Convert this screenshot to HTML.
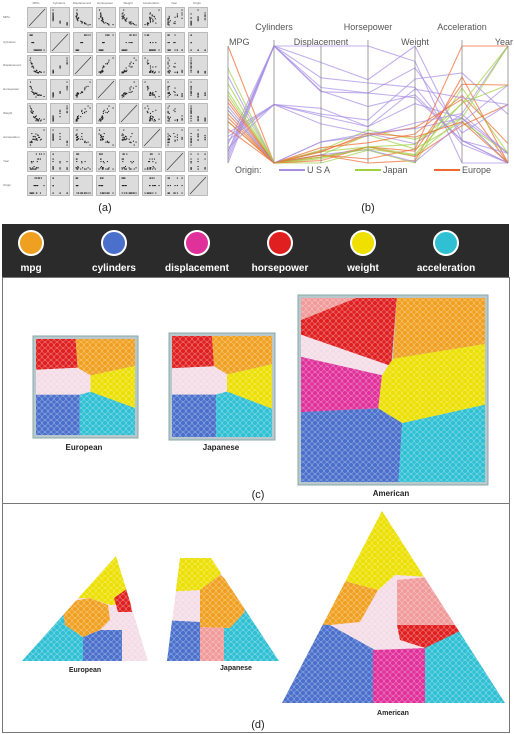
<!DOCTYPE html>
<html><head><meta charset="utf-8">
<style>
body{margin:0;background:#fff;width:514px;height:734px;overflow:hidden;font-family:"Liberation Sans",sans-serif}
svg{display:block}
</style></head><body>
<svg id="root" width="514" height="734" viewBox="0 0 514 734">
<defs>
<pattern id="cells" width="6" height="6" patternUnits="userSpaceOnUse">
<circle cx="3" cy="3" r="2.5" fill="none" stroke="#fff" stroke-width="0.5" stroke-opacity="0.55"/>
</pattern>
<clipPath id="clipEu"><polygon points="116,556 22,661 148,661"/></clipPath>
<clipPath id="clipJp"><polygon points="180,558 211,558 279,661 167,661"/></clipPath>
<clipPath id="clipAm"><polygon points="382,511 282,703 505,703"/></clipPath>
</defs>
<g id="matrix"></g>
<text x="105" y="211" font-size="11" text-anchor="middle" fill="#222">(a)</text>
<g id="pcoords"></g>
<text x="368" y="211" font-size="11" text-anchor="middle" fill="#222">(b)</text>

<g>
<rect x="2" y="224" width="507" height="53" fill="#2b2b2b"/>
<g id="legendItems"></g>
</g>

<rect x="2.5" y="277.5" width="507" height="226" fill="#fff" stroke="#777"/>
<rect x="2.5" y="503.5" width="507" height="229" fill="#fff" stroke="#777"/>
<g id="squares"></g>
<g id="tris"></g>
<text x="84" y="450" font-size="8" font-weight="bold" text-anchor="middle" fill="#222">European</text>
<text x="221" y="450" font-size="8" font-weight="bold" text-anchor="middle" fill="#222">Japanese</text>
<text x="391" y="496" font-size="8" font-weight="bold" text-anchor="middle" fill="#222">American</text>
<text x="258" y="498" font-size="11" text-anchor="middle" fill="#222">(c)</text>
<text x="85" y="672" font-size="7" font-weight="bold" text-anchor="middle" fill="#222">European</text>
<text x="236" y="670" font-size="7" font-weight="bold" text-anchor="middle" fill="#222">Japanese</text>
<text x="393" y="715" font-size="7" font-weight="bold" text-anchor="middle" fill="#222">American</text>
<text x="258" y="728" font-size="11" text-anchor="middle" fill="#222">(d)</text>
</svg>
<script>
// ---- data (auto mpg sample) ----
const varNames = ["MPG","Cylinders","Displacement","Horsepower","Weight","Acceleration","Year","Origin"];
const mpg =   [18,15,16,14,24,26,25,21,27,13,19,28,22,31,20,29,32,17,36,30,34,44,27,38,16,24];
const cyl =   [8,8,8,8,4,4,4,6,4,8,6,4,4,4,6,4,4,6,4,4,4,4,4,4,8,4];
const disp =  [307,350,304,454,113,97,110,199,97,400,250,140,121,71,225,90,85,231,98,79,108,97,140,91,318,107];
const hp =    [130,165,150,220,95,46,87,90,88,170,100,90,76,65,100,70,70,110,66,70,70,52,86,67,150,90];
const weight =[3504,3693,3433,4354,2372,1835,2672,2648,2130,4746,3282,2264,2511,1773,3651,1937,1990,3907,1800,2074,2245,2130,2790,1965,4190,2430];
const accel = [12,11.5,12,9,15,20.5,17.5,15,14.5,12,15,15.5,18,19,17.7,14,17,21,14.4,19.5,16.9,24.6,15.6,15,13,14.5];
const year =  [70,70,70,70,70,70,70,70,71,71,71,71,72,71,76,76,78,75,78,78,82,82,82,82,76,70];
const origin =[1,1,1,1,3,2,2,1,3,1,1,1,2,3,1,2,3,1,1,2,3,2,1,3,1,2];
const cols = [mpg,cyl,disp,hp,weight,accel,year,origin];
const originNames = ["USA","Japan","Europe"];
const originColors = {1:"#a88ee6",3:"#9fd040",2:"#f06a30"};

const NS="http://www.w3.org/2000/svg";
function mk(tag,attrs,parent){const e=document.createElementNS(NS,tag);for(const k in attrs)e.setAttribute(k,attrs[k]);parent.appendChild(e);return e;}
function ext(a){return [Math.min(...a),Math.max(...a)];}
function scale(a,r0,r1){const [lo,hi]=ext(a);return v=>hi===lo?(r0+r1)/2:r0+(v-lo)/(hi-lo)*(r1-r0);}

// ---- scatterplot matrix ----
const M=document.getElementById('matrix');
const colX=[27,50,73,96,119,142,165,188], rowY=[7,32,55,79,103,127,151,175];
for(let c=0;c<8;c++){
  const t=mk('text',{x:colX[c]+9,y:4,'font-size':3,'text-anchor':'middle',fill:'#666'},M);t.textContent=varNames[c];
  
  
}
for(let r=0;r<8;r++){
  const t=mk('text',{x:3,y:rowY[r]+11,'font-size':3,fill:'#666'},M);t.textContent=varNames[r];
  
  
  for(let c=0;c<8;c++){
    const x0=colX[c],y0=rowY[r];
    const cell=mk('rect',{x:x0+.5,y:y0+.5,width:19,height:20,fill:'#dcdcdc',stroke:'#999','stroke-width':0.6},M);
    
    
    if(r===c){
      const l=mk('line',{x1:x0+2,y1:y0+19,x2:x0+18,y2:y0+2,stroke:'#333','stroke-width':0.6},M);
      
      
      continue;
    }
    const sx=scale(cols[c],x0+3,x0+17), sy=scale(cols[r],y0+18,y0+3);
    for(let i=0;i<mpg.length;i++){
      const p=mk('rect',{x:sx(cols[c][i])-.5,y:sy(cols[r][i])-.5,width:1.1,height:1.1,fill:'#222'},M);
      
      
    }
  }
}

// ---- parallel coordinates ----
const P=document.getElementById('pcoords');
const axX=[228,274,321,368,415,462,508];
const axTop=[46,40,46,40,46,40,46], labY=[45,30,45,30,45,30,45];
const yTop=46,yBot=163;
const axScales=cols.slice(0,7).map(a=>scale(a,yBot,yTop));
for(let i=0;i<mpg.length;i++){
  let d='';
  for(let k=0;k<7;k++){d+=(k?'L':'M')+axX[k]+','+axScales[k](cols[k][i]).toFixed(1);}
  const pth=mk('path',{d:d,fill:'none',stroke:originColors[origin[i]],'stroke-width':1.1,'stroke-opacity':0.7},P);
  
  
}
for(let k=0;k<7;k++){
  const a=mk('line',{x1:axX[k],y1:axTop[k],x2:axX[k],y2:yBot,stroke:'#888','stroke-width':0.8},P);
  
  
  const anchor=k===0?'start':(k===6?'end':'middle');
  const t=mk('text',{x:k===0?229:(k===6?513:axX[k]),y:labY[k],'font-size':9,'text-anchor':anchor,fill:'#555'},P);
  t.textContent=varNames[k];
  
  
}
const ot=mk('text',{x:235,y:173,'font-size':9,fill:'#555'},P);ot.textContent='Origin:';


const legX=[279,355,434], legC=["#a88ee6","#9fd040","#f06a30"], legT=["U S A","Japan","Europe"];
for(let i=0;i<3;i++){
  const l=mk('line',{x1:legX[i],y1:170,x2:legX[i]+26,y2:170,stroke:legC[i],'stroke-width':2},P);
  
  
  const t=mk('text',{x:legX[i]+28,y:173,'font-size':9,fill:'#555'},P);t.textContent=legT[i];
  
  
}

// ---- color legend ----
const LI=document.getElementById('legendItems');
const attrNames=["mpg","cylinders","displacement","horsepower","weight","acceleration"];
const attrColors=["#f0a020","#4a70cc","#e0309a","#e02020","#f0e000","#30c0d4"];
const attrX=[31,114,197,280,363,446];
for(let i=0;i<6;i++){
  const c=mk('circle',{cx:attrX[i],cy:243,r:12,fill:attrColors[i],stroke:'#fff','stroke-width':2},LI);
  
  
  const t=mk('text',{x:attrX[i],y:271,'font-size':10,'font-weight':'bold','text-anchor':'middle',fill:'#fff'},LI);
  t.textContent=attrNames[i];
  
  
}

// ---- voronoi squares ----
const C={o:"#f0a020",b:"#4a70cc",m:"#e0309a",r:"#e02020",y:"#ece000",c:"#30c0d4",lp:"#f4dce6",lr:"#f09a9a"};
const S=document.getElementById('squares');
function region(g,pts,col,tx,ty,w,h){
  const p=mk('polygon',{points:pts.map(q=>(tx+q[0]*w).toFixed(1)+','+(ty+q[1]*h).toFixed(1)).join(' '),fill:col},g);
  
  
}
function square(name,x,y,w,h,regs){
  const g=mk('g',{},S);
  
  
  mk('rect',{x:x-3,y:y-3,width:w+6,height:h+6,fill:'#b8c8cc',stroke:'#8aa','stroke-width':1},g);
  regs.forEach(r=>region(g,r[0],C[r[1]],x,y,w,h));
  mk('rect',{x:x,y:y,width:w,height:h,fill:'url(#cells)'},g);
}
const smallRegs=[
 [[[0,0],[.4,0],[.42,.3],[0,.32]],'r'],
 [[[.4,0],[1,0],[1,.28],[.55,.38],[.42,.3]],'o'],
 [[[0,.32],[.42,.3],[.55,.38],[.55,.55],[.44,.58],[0,.58]],'lp'],
 [[[.55,.38],[1,.28],[1,.72],[.55,.55]],'y'],
 [[[0,.58],[.44,.58],[.44,1],[0,1]],'b'],
 [[[.44,.58],[.55,.55],[1,.72],[1,1],[.44,1]],'c']];
square('european',36,339,99,96,smallRegs);
square('japanese',172,336,100,101,smallRegs);
square('american',301,298,184,184,[
 [[[0,0],[.52,0],[.49,.37],[0,.2]],'r'],
 [[[0,0],[.3,0],[0,.12]],'lr'],
 [[[0,.2],[.49,.37],[.44,.42],[0,.32]],'lp'],
 [[[0,.32],[.44,.42],[.42,.6],[0,.62]],'m'],
 [[[.52,0],[1,0],[1,.25],[.5,.33]],'o'],
 [[[.5,.33],[1,.25],[1,.58],[.55,.68],[.42,.6],[.44,.42]],'y'],
 [[[0,.62],[.42,.6],[.55,.68],[.53,1],[0,1]],'b'],
 [[[.55,.68],[1,.58],[1,1],[.53,1]],'c']]);

// ---- voronoi triangles ----
const T=document.getElementById('tris');
function tri(name,clip,outline,regs){
  const g=mk('g',{'clip-path':'url(#'+clip+')'},T);
  
  
  mk('polygon',{points:outline,fill:C.lp},g);
  regs.forEach(r=>region(g,r[0],C[r[1]],0,0,1,1));
  mk('rect',{x:0,y:500,width:514,height:220,fill:'url(#cells)'},g);
}
tri('european','clipEu','116,556 22,661 148,661',[
 [[[0,540],[200,540],[200,600],[110,605],[90,598],[0,600]],'y'],
 [[[0,600],[62,603],[65,625],[83,637],[83,670],[0,670]],'c'],
 [[[83,637],[100,630],[122,630],[122,670],[83,670]],'b'],
 [[[62,603],[90,598],[108,605],[110,620],[100,630],[83,637],[65,625]],'o'],
 [[[114,598],[128,588],[132,612],[118,612]],'r']]);
tri('japanese','clipJp','180,558 211,558 279,661 167,661',[
 [[[160,550],[230,550],[220,575],[200,590],[160,592]],'y'],
 [[[200,590],[220,575],[240,590],[245,612],[230,628],[200,627]],'o'],
 [[[240,590],[290,590],[290,670],[224,670],[224,628],[230,628],[245,612]],'c'],
 [[[160,620],[200,622],[200,670],[160,670]],'b'],
 [[[200,627],[224,628],[224,670],[200,670]],'lr']]);
tri('american','clipAm','382,511 282,703 505,703',[
 [[[250,500],[520,500],[520,570],[430,577],[395,575],[378,590],[330,577],[250,575]],'y'],
 [[[260,575],[330,577],[378,590],[360,622],[330,625],[260,625]],'o'],
 [[[260,622],[330,625],[375,650],[373,710],[260,710]],'b'],
 [[[373,650],[425,648],[425,710],[373,710]],'m'],
 [[[425,648],[460,630],[520,620],[520,710],[425,710]],'c'],
 [[[397,580],[430,577],[455,625],[397,625]],'lr'],
 [[[397,625],[455,625],[462,630],[425,648],[400,640]],'r']]);
</script>
</body></html>
